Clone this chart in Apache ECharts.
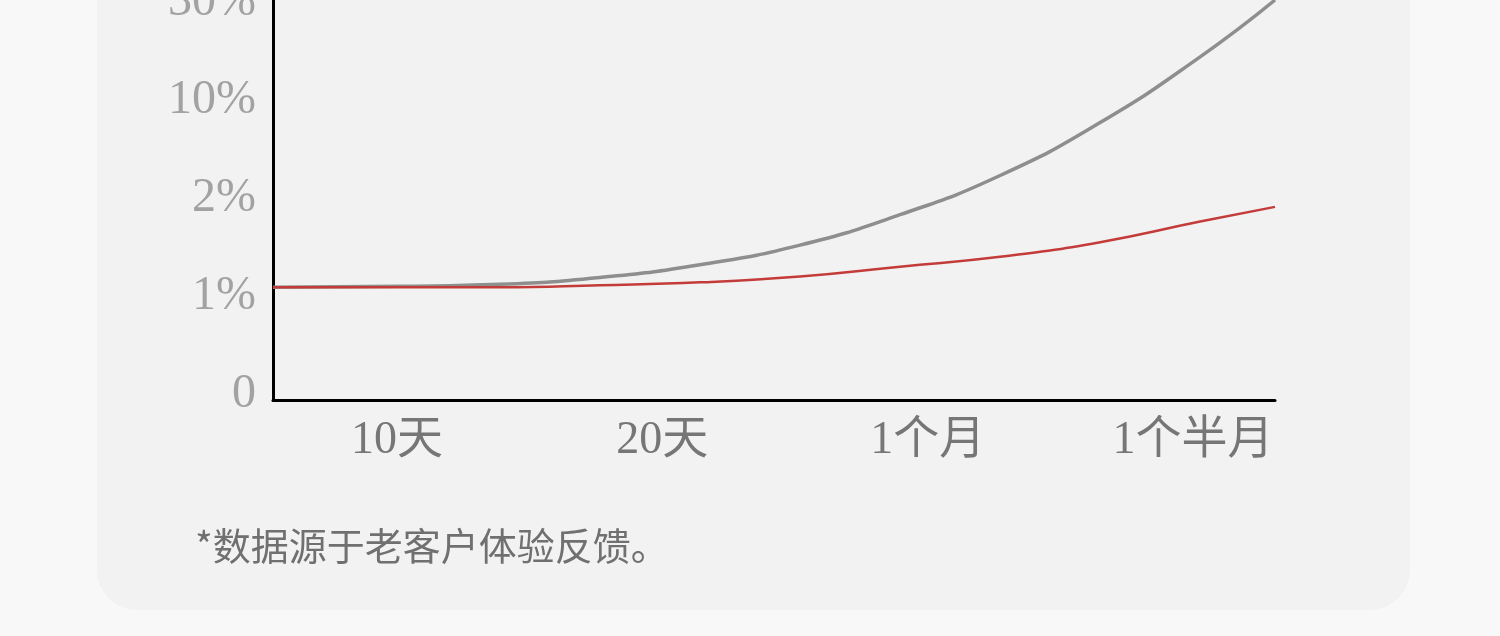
<!DOCTYPE html>
<html>
<head>
<meta charset="utf-8">
<script src="https://cdn.jsdelivr.net/npm/echarts@6/dist/echarts.min.js"></script>
<style>
html,body{margin:0;padding:0;background:#f8f8f9;}
#c{width:1500px;height:636px;}
</style>
</head>
<body>
<div id="c"></div>
<script>
// x positions in "label units": 1 = 10天, 2 = 20天, 3 = 1个月, 4 = 1个半月
const xCategories = ['10天', '20天', '1个月', '1个半月'];
const xTickValues = [1, 2, 3, 4];
// y levels: 0 -> 0, 1 -> 1%, 2 -> 2%, 3 -> 10%, 4 -> 30%
const yLabels = ['0', '1%', '2%', '10%', '30%'];
const yTickValues = [0, 1, 2, 3, 4];

const samplePositions = [0.533, 1.012, 1.388, 1.765, 2.142, 2.519, 2.896, 3.273, 3.65, 4.027, 4.309];
const grayValues = [1.09, 1.10, 1.12, 1.19, 1.32, 1.52, 1.83, 2.23, 2.77, 3.44, 4.02];
const redValues  = [1.09, 1.09, 1.09, 1.11, 1.14, 1.20, 1.30, 1.40, 1.55, 1.76, 1.91];

const footnote = '*数据源于老客户体验反馈。';

const chart = echarts.init(document.getElementById('c'), null, {renderer: 'canvas'});
const pairs = (vals) => samplePositions.map((x, i) => [x, vals[i]]);

chart.setOption({
  backgroundColor: '#f8f8f9',
  animation: false,
  graphic: [
    {type: 'rect', z: -10, shape: {x: 97, y: -60, width: 1313, height: 670, r: 40},
     style: {fill: '#f2f2f3'}},
    {type: 'text', left: 195, top: 527, z: 10,
     style: {text: footnote, fill: '#707070', font: '38px "Noto Sans CJK SC"'}}
  ],
  grid: {left: 273, right: 225, top: 0, bottom: 236, containLabel: false, outerBoundsMode: 'none'},
  xAxis: {
    type: 'value', min: 0.533, max: 4.309,
    axisLine: {show: true, onZero: false, lineStyle: {color: '#000', width: 3}},
    axisTick: {show: false},
    splitLine: {show: false},
    axisLabel: {
      customValues: xTickValues,
      formatter: (v) => xCategories[xTickValues.indexOf(Math.round(v))] || '',
      color: '#767676', fontSize: 46, margin: 18,
      fontFamily: '"Liberation Serif", "Noto Sans CJK SC", serif'
    }
  },
  yAxis: {
    type: 'value', min: -0.06, max: 4.02,
    axisLine: {show: true, onZero: false, lineStyle: {color: '#000', width: 3}},
    axisTick: {show: false},
    splitLine: {show: false},
    axisLabel: {
      customValues: yTickValues,
      formatter: (v) => yLabels[yTickValues.indexOf(Math.round(v))] || '',
      color: '#a2a2a2', fontSize: 48, margin: 17,
      padding: [7, 0, 0, 0],
      fontFamily: '"Liberation Serif", serif'
    }
  },
  series: [
    {type: 'line', data: pairs(grayValues), smooth: true, showSymbol: false,
     lineStyle: {color: '#8e8e8e', width: 3.5}, z: 2},
    {type: 'line', data: pairs(redValues), smooth: true, showSymbol: false,
     lineStyle: {color: '#c43c3a', width: 2.5}, z: 3}
  ]
});
</script>
</body>
</html>
